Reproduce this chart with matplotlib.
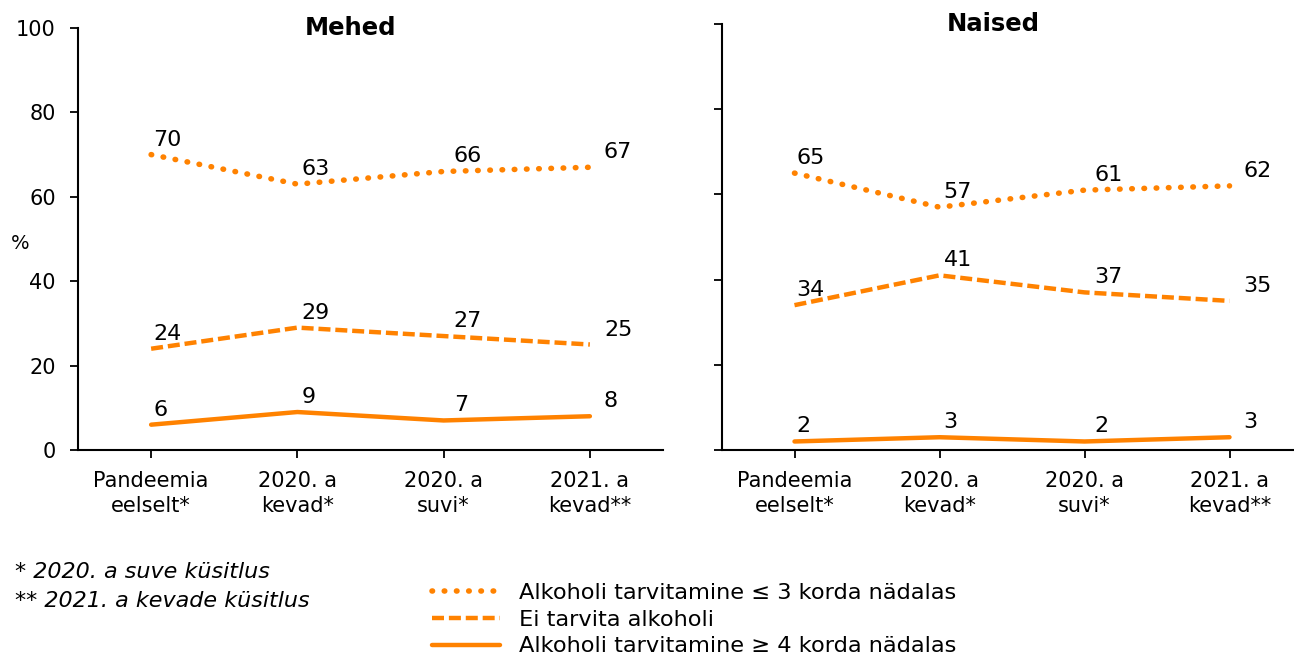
import matplotlib.pyplot as plt
import numpy as np

# data
categories = ['Pandeemia\neelselt*', '2020. a\nkevad*', '2020. a\nsuvi*', '2021. a\nkevad**']
men_le3 = [70, 63, 66, 67]
men_none = [24, 29, 27, 25]
men_ge4 = [6, 9, 7, 8]
women_le3 = [65, 57, 61, 62]
women_none = [34, 41, 37, 35]
women_ge4 = [2, 3, 2, 3]
series_labels = ['Alkoholi tarvitamine ≤ 3 korda nädalas',
                 'Ei tarvita alkoholi',
                 'Alkoholi tarvitamine ≥ 4 korda nädalas']

plt.rcParams['font.family'] = ['DejaVu Sans']
orange = '#FF8200'
W, H = 1294, 666

fig = plt.figure(figsize=(W / 100, H / 100), dpi=100)
ax1 = fig.add_axes([78 / W, 1 - 450 / H, (663 - 78) / W, (450 - 28) / H])
ax2 = fig.add_axes([722 / W, 1 - 450 / H, (1294 - 722) / W, (450 - 24) / H])

styles = [dict(linestyle=(0, (0.1, 2.1)), linewidth=4.0, dash_capstyle='round'),
          dict(linestyle=(0, (2.7, 1.1)), linewidth=3.2, dash_capstyle='butt'),
          dict(linestyle='-', linewidth=3.2, solid_capstyle='round')]
xoff = [2, 4, 10, 14]

x = np.arange(len(categories))
handles = []
for ax, data in [(ax1, [men_le3, men_none, men_ge4]),
                 (ax2, [women_le3, women_none, women_ge4])]:
    for vals, st, lab in zip(data, styles, series_labels):
        ln, = ax.plot(x, vals, color=orange, label=lab, **st)
        if ax is ax1:
            handles.append(ln)
        for i, v in enumerate(vals):
            ax.annotate(str(v), (x[i], v), xytext=(xoff[i], 5), textcoords='offset pixels',
                        ha='left', va='bottom', fontsize=16)
    ax.set_ylim(0, 100)
    ax.set_yticks(range(0, 101, 20))
    ax.set_xticks(x)
    ax.set_xticklabels(categories, fontsize=15, linespacing=1.35)
    ax.tick_params(axis='both', direction='out', length=6, width=1.3, colors='black')
    ax.tick_params(axis='y', labelsize=15, pad=10)
    ax.tick_params(axis='x', pad=9)
    for s in ['top', 'right']:
        ax.spines[s].set_visible(False)
    for s in ['left', 'bottom']:
        ax.spines[s].set_linewidth(1.5)

ax1.text(0.465, 1.0, 'Mehed', transform=ax1.transAxes, ha='center', va='center',
         fontsize=17.5, fontweight='bold')
ax2.text(0.474, 1.0, 'Naised', transform=ax2.transAxes, ha='center', va='center',
         fontsize=17.5, fontweight='bold')

ax1.set_xlim(-0.5, 3.5)
ax2.set_xlim(-0.5, 3.5 - 8 / 145)
ax2.set_yticklabels([])

fig.text(20 / W, 1 - 243 / H, '%', fontsize=14, ha='center', va='center')
fig.text(15 / W, 1 - 572 / H, '* 2020. a suve küsitlus', fontsize=16, style='italic',
         ha='left', va='center')
fig.text(15 / W, 1 - 601 / H, '** 2021. a kevade küsitlus', fontsize=16, style='italic',
         ha='left', va='center')

fig.legend(handles=handles, loc='upper left', bbox_to_anchor=(423 / W, 1 - 574 / H),
           frameon=False, fontsize=16.2, handlelength=3.0, handletextpad=0.85,
           labelspacing=0.3, borderaxespad=0)

fig.savefig('out.png', dpi=100)
